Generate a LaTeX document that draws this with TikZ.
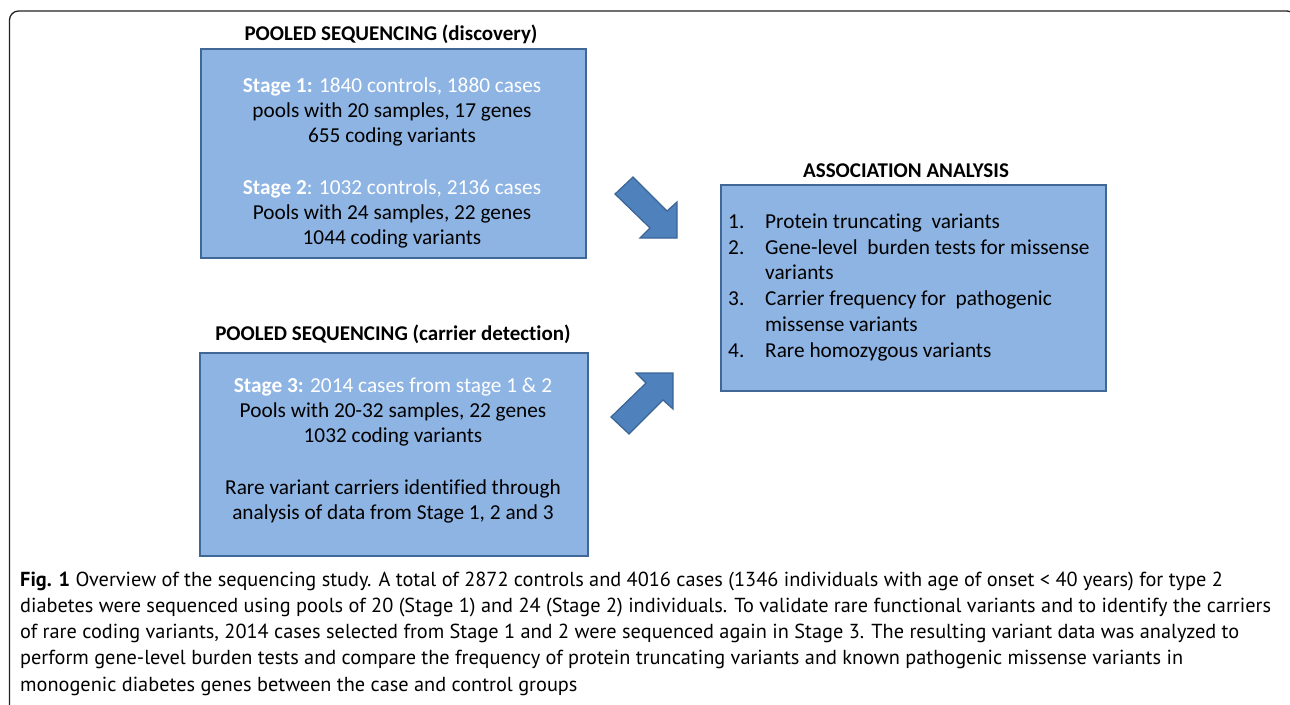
\documentclass[tikz,border=0pt]{standalone}
\usepackage{fontspec}
\setmainfont[Ligatures=CommonOff]{Carlito}
\newfontfamily\capfont{PT Sans}
\definecolor{boxfill}{HTML}{8EB4E3}
\definecolor{boxline}{HTML}{3F6797}
\definecolor{arrfill}{HTML}{4F81BD}
\definecolor{arrline}{HTML}{3A6594}
\definecolor{framecol}{HTML}{222222}
\tikzset{
  panel/.style={draw=boxline, line width=2.2pt, fill=boxfill, inner sep=0pt, anchor=north west},
  ttl/.style={font=\bfseries\fontsize{21}{25}\selectfont, inner sep=0pt, text height=15, text depth=5},
  txt/.style={font=\fontsize{21.3}{25}\selectfont, inner sep=0pt, text height=15, text depth=5},
  wtxt/.style={txt, text=white},
  captxt/.style={font=\capfont\fontsize{20.3}{24}\selectfont, inner sep=0pt, text height=14.5, text depth=5, anchor=west},
  blockarrow/.style={draw=arrline, line width=1.2pt, fill=arrfill, line join=miter},
}
\begin{document}
\begin{tikzpicture}[x=1pt,y=-1pt]
\useasboundingbox (0,0) rectangle (1290,704);
% outer frame
\draw[framecol, line width=1.3pt, rounded corners=9] (9.5,710) -- (9.5,11) -- (1296,11) -- (1296,710);

% panels
\node[panel, minimum width=385, minimum height=209] (disc) at (200,48) {};
\node[panel, minimum width=388, minimum height=203] (carr) at (199,352) {};
\node[panel, minimum width=385, minimum height=206] (assoc) at (720,184) {};

% titles
\node[ttl] (t1) at (391,35) {POOLED SEQUENCING (discovery)};
\node[ttl] (t2) at (393,335) {POOLED SEQUENCING (carrier detection)};
\node[ttl] (t3) at (906,172) {ASSOCIATION ANALYSIS};

% discovery text
\node[wtxt] (d1) at (392,87) {\textbf{Stage 1:} 1840 controls, 1880 cases};
\node[txt]  (d2) at (392,112) {pools with 20 samples, 17 genes};
\node[txt]  (d3) at (392,137) {655 coding variants};
\node[wtxt] (d4) at (392,189) {\textbf{Stage 2}: 1032 controls, 2136 cases};
\node[txt]  (d5) at (392,214) {Pools with 24 samples, 22 genes};
\node[txt]  (d6) at (392,239) {1044 coding variants};

% carrier text
\node[wtxt] (c1) at (393,387) {\textbf{Stage 3:} 2014 cases from stage 1 \& 2};
\node[txt]  (c2) at (393,412) {Pools with 20-32 samples, 22 genes};
\node[txt]  (c3) at (393,437) {1032 coding variants};
\node[txt]  (c4) at (393,489) {Rare variant carriers identified through};
\node[txt]  (c5) at (393,514) {analysis of data from Stage 1, 2 and 3};

% association list
\node[txt, anchor=west] (n1) at (728,223) {1.};
\node[txt, anchor=west] (n2) at (728,249) {2.};
\node[txt, anchor=west] (n3) at (728,300) {3.};
\node[txt, anchor=west] (n4) at (728,352) {4.};
\node[txt, anchor=west] (a1) at (765,223) {Protein truncating\ \ variants};
\node[txt, anchor=west] (a2) at (765,249) {Gene-level\ \ burden tests for missense};
\node[txt, anchor=west] (a3) at (765,274) {variants};
\node[txt, anchor=west] (a4) at (765,300) {Carrier frequency for\ \ pathogenic};
\node[txt, anchor=west] (a5) at (765,326) {missense variants};
\node[txt, anchor=west] (a6) at (765,352) {Rare homozygous variants};

% block arrows
\draw[blockarrow] (633,177) -- (667,211) -- (677,202) -- (677,238) -- (640,238) -- (650,228) -- (615,194) -- cycle;
\draw[blockarrow] (629,434) -- (663,400) -- (673,409) -- (673,373) -- (636,373) -- (646,383) -- (611,417) -- cycle;

% caption
\node[captxt] (cap1) at (20,582) {\textbf{Fig. 1} Overview of the sequencing study. A total of 2872 controls and 4016 cases (1346 individuals with age of onset < 40 years) for type 2};
\node[captxt] (cap2) at (20,608) {diabetes were sequenced using pools of 20 (Stage 1) and 24 (Stage 2) individuals. To validate rare functional variants and to identify the carriers};
\node[captxt] (cap3) at (20,634) {of rare coding variants, 2014 cases selected from Stage 1 and 2 were sequenced again in Stage 3. The resulting variant data was analyzed to};
\node[captxt] (cap4) at (20,660) {perform gene-level burden tests and compare the frequency of protein truncating variants and known pathogenic missense variants in};
\node[captxt] (cap5) at (20,687) {monogenic diabetes genes between the case and control groups};
\end{tikzpicture}
\end{document}
